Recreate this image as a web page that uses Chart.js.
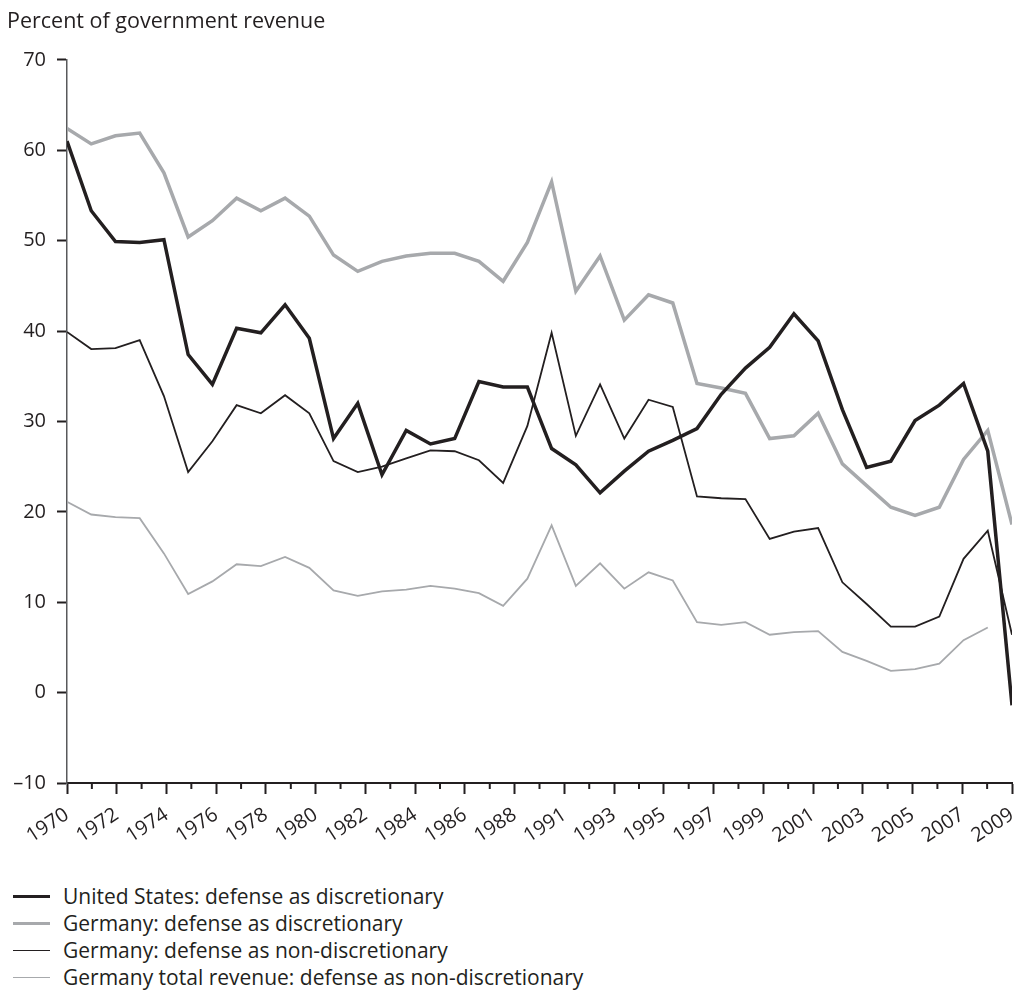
<!DOCTYPE html>
<html>
<head>
<meta charset="utf-8">
<script src="https://cdn.jsdelivr.net/npm/chart.js@4"></script>
<style>
html,body{margin:0;padding:0;background:#fff;}
#wrap{position:relative;width:1024px;height:995px;overflow:hidden;}
#box{position:absolute;left:0;top:0;width:1024px;height:850px;}
#legend{position:absolute;left:0;top:883px;font-family:'Open Sans',sans-serif;font-size:21px;color:#231f20;}
.row{position:relative;height:27px;line-height:27px;white-space:nowrap;}
.sw{position:absolute;left:13px;width:37px;}
.tx{position:absolute;left:63px;top:0;}
</style>
</head>
<body>
<div id="wrap">
  <div id="box"><canvas id="c"></canvas></div>
  <div id="legend"></div>
</div>
<script>
const years = [1970,1971,1972,1973,1974,1975,1976,1977,1978,1979,
               1980,1981,1982,1983,1984,1985,1986,1987,1988,1989,
               1990,1991,1992,1993,1994,1995,1996,1997,1998,1999,
               2000,2001,2002,2003,2004,2005,2006,2007,2008,2009];
const tickLabels = ['1970','1972','1974','1976','1978','1980','1982','1984','1986','1988',
                    '1991','1993','1995','1997','1999','2001','2003','2005','2007','2009'];
const yTicks = [-10, 0, 10, 20, 30, 40, 50, 60, 70];

const usDiscretionary = [61.0,53.3,49.9,49.8,50.1,37.4,34.1,40.3,39.8,42.9,
                         39.2,28.1,32.0,24.1,29.0,27.5,28.1,34.4,33.8,33.8,
                         27.0,25.2,22.1,24.5,26.7,27.9,29.2,33.0,35.9,38.2,
                         41.9,38.9,31.3,24.9,25.6,30.1,31.8,34.2,26.7,-1.4];
const germanyDiscretionary = [62.4,60.7,61.6,61.9,57.5,50.4,52.2,54.7,53.3,54.7,
                              52.7,48.4,46.6,47.7,48.3,48.6,48.6,47.7,45.5,49.8,
                              56.5,44.4,48.3,41.2,44.0,43.1,34.2,33.7,33.1,28.1,
                              28.4,30.9,25.3,22.9,20.5,19.6,20.5,25.8,29.0,18.6];
const germanyNonDiscretionary = [39.9,38.0,38.1,39.0,32.8,24.4,27.8,31.8,30.9,32.9,
                                 30.9,25.6,24.4,25.0,25.9,26.8,26.7,25.7,23.2,29.5,
                                 39.8,28.4,34.1,28.1,32.4,31.6,21.7,21.5,21.4,17.0,
                                 17.8,18.2,12.2,9.8,7.3,7.3,8.4,14.8,17.9,6.4];
const germanyTotalRevenue = [21.1,19.7,19.4,19.3,15.4,10.9,12.3,14.2,14.0,15.0,
                             13.8,11.3,10.7,11.2,11.4,11.8,11.5,11.0,9.6,12.6,
                             18.5,11.8,14.3,11.5,13.3,12.4,7.8,7.5,7.8,6.4,
                             6.7,6.8,4.5,3.5,2.4,2.6,3.2,5.8,7.2,null];

const seriesNames = ['United States: defense as discretionary',
                     'Germany: defense as discretionary',
                     'Germany: defense as non-discretionary',
                     'Germany total revenue: defense as non-discretionary'];

const BLACK = '#231f20', GRAY = '#a7a9ac';
const FONT = "'Open Sans', sans-serif";

// 39 tick slots on the axis: labelled every other slot
const axisLabels = [];
tickLabels.forEach((t, k) => { if (k > 0) axisLabels.push(''); axisLabels.push(t); });

const toPts = arr => years.map((yr, i) => ({x: yr, y: arr[i]}));

const minorTicks = {
  id: 'minorTicks',
  afterDraw(chart) {
    const s = chart.scales.xt, ctx = chart.ctx;
    ctx.save();
    ctx.strokeStyle = BLACK; ctx.lineWidth = 2;
    for (let i = 1; i < axisLabels.length; i += 2) {
      const x = s.getPixelForTick(i);
      ctx.beginPath(); ctx.moveTo(x, s.top); ctx.lineTo(x, s.top + 6); ctx.stroke();
    }
    ctx.restore();
  }
};

const chart = new Chart(document.getElementById('c'), {
  type: 'line',
  data: {
    datasets: [
      {label: seriesNames[0], data: toPts(usDiscretionary), borderColor: BLACK, borderWidth: 3.5},
      {label: seriesNames[1], data: toPts(germanyDiscretionary), borderColor: GRAY, borderWidth: 3.5},
      {label: seriesNames[2], data: toPts(germanyNonDiscretionary), borderColor: BLACK, borderWidth: 1.8},
      {label: seriesNames[3], data: toPts(germanyTotalRevenue), borderColor: GRAY, borderWidth: 1.8}
    ]
  },
  options: {
    responsive: true,
    maintainAspectRatio: false,
    animation: false,
    layout: {padding: {left: 7, right: 12, top: 0, bottom: 0}},
    elements: {point: {radius: 0}, line: {tension: 0, fill: false, borderCapStyle: 'butt'}},
    plugins: {
      legend: {display: false},
      tooltip: {enabled: false},
      title: {
        display: true, text: 'Percent of government revenue', align: 'start',
        color: BLACK, font: {family: FONT, size: 21.5, weight: 'normal'},
        padding: {top: 9, bottom: 25}
      }
    },
    scales: {
      x: {type: 'linear', min: years[0], max: years[years.length - 1], display: false},
      xt: {
        type: 'category', labels: axisLabels, position: 'bottom', offset: false,
        grid: {display: true, drawOnChartArea: false, tickLength: 11, tickWidth: 2,
               tickColor: c => (c.index % 2 ? 'rgba(0,0,0,0)' : BLACK)},
        border: {display: true, color: BLACK, width: 2},
        ticks: {autoSkip: false, maxRotation: 33, minRotation: 33, padding: 9,
                color: BLACK, font: {family: FONT, size: 20}},
        afterFit: s => { s.height = 850 - 783; s.paddingRight = 0; s.paddingLeft = 0; }
      },
      y: {
        min: yTicks[0], max: yTicks[yTicks.length - 1],
        afterBuildTicks: s => { s.ticks = yTicks.map(v => ({value: v})); },
        grid: {display: true, drawOnChartArea: false, tickLength: 10, tickWidth: 2, tickColor: BLACK},
        border: {display: true, color: '#58595b', width: 1.5},
        ticks: {padding: 11, color: BLACK, font: {family: FONT, size: 20},
                callback: v => String(v).replace('-', '\u2013')},
        afterFit: s => { s.width = 60; }
      }
    }
  },
  plugins: [minorTicks]
});

// HTML legend built from the chart's datasets
const leg = document.getElementById('legend');
chart.data.datasets.forEach(ds => {
  const row = document.createElement('div'); row.className = 'row';
  const sw = document.createElement('div'); sw.className = 'sw';
  sw.style.height = ds.borderWidth + 'px';
  sw.style.top = (13.5 - ds.borderWidth / 2) + 'px';
  sw.style.background = ds.borderColor;
  const tx = document.createElement('span'); tx.className = 'tx'; tx.textContent = ds.label;
  row.appendChild(sw); row.appendChild(tx); leg.appendChild(row);
});
</script>
</body>
</html>
